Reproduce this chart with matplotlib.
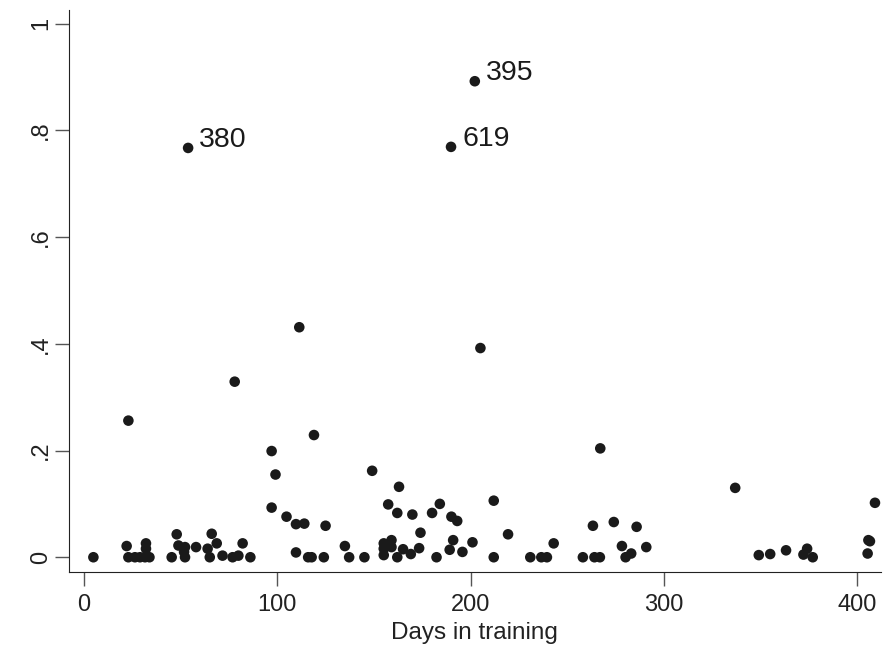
import matplotlib
matplotlib.use("Agg")
import matplotlib.pyplot as plt
from matplotlib.ticker import FuncFormatter

plt.rcParams["font.family"] = ["Liberation Sans", "DejaVu Sans"]

days = [4.8, 22.9, 22.0, 22.9, 26.3, 28.9, 31.5, 32.0, 32.0, 33.8,
        45.3, 47.9, 48.8, 52.2, 51.7, 52.2, 53.8, 57.9, 63.9, 65.0,
        66.0, 68.6, 71.6, 76.8, 77.9, 79.8, 82.0, 86.0, 97.0, 99.0,
        97.0, 104.7, 109.6, 113.9, 109.6, 111.3, 115.9, 117.7, 118.9, 124.9,
        124.0, 134.9, 137.1, 145.0, 149.0, 155.0, 155.0, 155.0, 159.0, 159.0,
        157.3, 162.0, 162.9, 162.0, 165.0, 169.0, 169.8, 173.3, 174.0, 180.0,
        184.0, 182.3, 189.1, 189.8, 190.9, 190.0, 193.0, 195.7, 200.9, 202.1,
        205.0, 211.9, 211.9, 219.3, 230.8, 236.5, 239.4, 242.9, 258.0, 263.2,
        264.0, 266.8, 267.0, 274.0, 278.2, 280.1, 283.0, 285.8, 290.8, 336.8,
        349.0, 354.9, 363.1, 372.1, 374.0, 376.9, 405.7, 406.5, 405.3, 409.1]
values = [0, 0.256, 0.021, 0, 0, 0, 0, 0.026, 0.016, 0,
          0, 0.043, 0.022, 0.019, 0.010, 0, 0.767, 0.019, 0.016, 0,
          0.044, 0.026, 0.003, 0, 0.329, 0.003, 0.026, 0, 0.199, 0.155,
          0.093, 0.076, 0.062, 0.063, 0.009, 0.431, 0, 0, 0.229, 0.059,
          0, 0.021, 0, 0, 0.162, 0.026, 0.016, 0.004, 0.032, 0.019,
          0.099, 0.083, 0.132, 0, 0.015, 0.006, 0.080, 0.017, 0.046, 0.083,
          0.100, 0, 0.014, 0.769, 0.032, 0.076, 0.068, 0.010, 0.028, 0.892,
          0.392, 0.106, 0, 0.043, 0, 0, 0, 0.026, 0, 0.059,
          0, 0, 0.204, 0.066, 0.021, 0, 0.007, 0.057, 0.019, 0.130,
          0.004, 0.006, 0.013, 0.005, 0.016, 0, 0.032, 0.030, 0.007, 0.102]

# labelled outliers
label_ids = ["380", "395", "619"]
label_days = [53.8, 202.1, 189.8]
label_vals = [0.767, 0.892, 0.769]

fig = plt.figure(figsize=(8.85, 6.48), dpi=100)
ax = fig.add_axes([0.078, 0.117, 0.917, 0.868])

ax.scatter(days, values, s=58, color="#1a1a1a", edgecolors="none", zorder=3)
for lab, d, v in zip(label_ids, label_days, label_vals):
    ax.annotate(lab, (d, v), xytext=(8, 6), textcoords="offset points",
                ha="left", va="center", fontsize=20.5, color="#1a1a1a")

ax.set_xlim(-7.8, 412)
ax.set_ylim(-0.028, 1.026)
ax.set_xticks([0, 100, 200, 300, 400])
ax.set_yticks([0, 0.2, 0.4, 0.6, 0.8, 1.0])
ax.yaxis.set_major_formatter(FuncFormatter(
    lambda v, p: "0" if v == 0 else ("1" if v == 1 else f"{v:.1f}".lstrip("0"))))
ax.tick_params(axis="both", length=10, width=1, color="#555555",
               labelsize=17, labelcolor="#222222", pad=6)
ax.tick_params(axis="y", labelrotation=90, pad=2)
for lbl in ax.get_yticklabels():
    lbl.set_va("center")

ax.spines["top"].set_visible(False)
ax.spines["right"].set_visible(False)
ax.spines["left"].set_color("#222222")
ax.spines["bottom"].set_color("#222222")

ax.set_xlabel("Days in training", fontsize=17.5, color="#222222", labelpad=4)

fig.savefig("out.png", dpi=100)
